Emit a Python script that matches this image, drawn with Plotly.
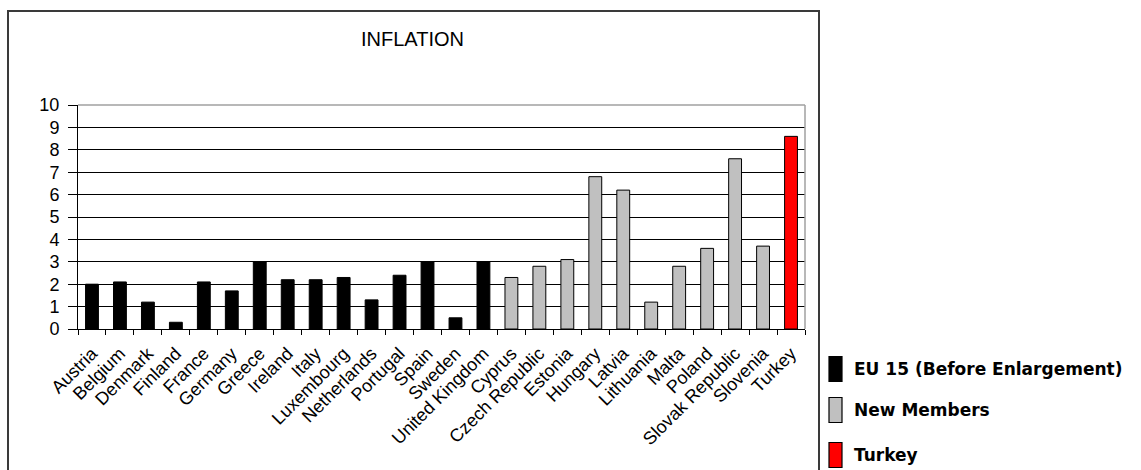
import plotly.graph_objects as go

# Annual inflation (%) by country group
eu15_countries = ["Austria", "Belgium", "Denmark", "Finland", "France", "Germany",
                  "Greece", "Ireland", "Italy", "Luxembourg", "Netherlands",
                  "Portugal", "Spain", "Sweden", "United Kingdom"]
eu15_values = [2.0, 2.1, 1.2, 0.3, 2.1, 1.7, 3.0, 2.2, 2.2, 2.3, 1.3, 2.4, 3.0, 0.5, 3.0]

new_countries = ["Cyprus", "Czech Republic", "Estonia", "Hungary", "Latvia",
                 "Lithuania", "Malta", "Poland", "Slovak Republic", "Slovenia"]
new_values = [2.3, 2.8, 3.1, 6.8, 6.2, 1.2, 2.8, 3.6, 7.6, 3.7]

turkey_countries = ["Turkey"]
turkey_values = [8.6]

series_names = ["EU 15 (Before Enlargement)", "New Members", "Turkey"]
series_colors = ["#000000", "#C0C0C0", "#FF0000"]

y_ticks = list(range(0, 11))

W, H = 1141, 470
L, R, T, B = 78, 805, 105, 329  # plot area in pixels


def px(x):
    return (x - L) / (R - L)


def py(y):
    return (B - y) / (B - T)


fig = go.Figure()
groups = [(eu15_countries, eu15_values), (new_countries, new_values),
          (turkey_countries, turkey_values)]
for (cats, vals), name, color in zip(groups, series_names, series_colors):
    fig.add_trace(go.Bar(
        x=cats, y=vals, name=name, width=0.46,
        marker=dict(color=color, line=dict(color="#000000", width=1)),
        showlegend=False,
    ))

all_cats = eu15_countries + new_countries + turkey_countries

shapes = [
    # outer chart frame
    dict(type="rect", xref="paper", yref="paper",
         x0=px(8), x1=px(819), y0=py(485), y1=py(11),
         line=dict(color="#3a3a3a", width=2), layer="above"),
    # plot-area border (top and right)
    dict(type="line", xref="paper", yref="paper", x0=0, x1=1, y0=1, y1=1,
         line=dict(color="#A0A0A0", width=1.5), layer="above"),
    dict(type="line", xref="paper", yref="paper", x0=1, x1=1, y0=0, y1=1,
         line=dict(color="#A0A0A0", width=1.5), layer="above"),
]

annotations = [
    dict(text="INFLATION", xref="paper", yref="paper", x=px(412), y=py(39),
         showarrow=False, xanchor="center", yanchor="middle",
         font=dict(family="Liberation Sans, Arial", size=20, color="#000000")),
]

# legend to the right of the frame
legend_y = [369, 410, 455]
for name, color, cy in zip(series_names, series_colors, legend_y):
    shapes.append(dict(type="rect", xref="paper", yref="paper",
                       x0=px(829), x1=px(842), y0=py(cy + 12.5), y1=py(cy - 12.5),
                       fillcolor=color, line=dict(color="#000000", width=1.2)))
    annotations.append(dict(text="<b>" + name + "</b>", xref="paper", yref="paper",
                            x=px(852), y=py(cy), showarrow=False,
                            xanchor="left", yanchor="middle",
                            font=dict(family="DejaVu Sans", size=17, color="#000000")))

fig.update_layout(
    width=W, height=H,
    margin=dict(l=L, r=W - R, t=T, b=H - B, pad=0),
    paper_bgcolor="white", plot_bgcolor="white",
    barmode="overlay",
    shapes=shapes, annotations=annotations,
    xaxis=dict(
        categoryorder="array", categoryarray=all_cats,
        range=[-0.5, len(all_cats) - 0.5],
        tickangle=-45, tickson="boundaries", ticks="outside", ticklen=5,
        tickcolor="#000000", showline=True, linecolor="#000000", linewidth=1,
        showgrid=False, automargin=False, ticklabelstandoff=6,
        tickfont=dict(family="Liberation Sans, Arial", size=18, color="#000000"),
    ),
    yaxis=dict(
        range=[0, 10], tickvals=y_ticks, ticktext=[str(v) for v in y_ticks],
        ticks="outside", ticklen=9, tickcolor="#000000",
        showline=True, linecolor="#000000", linewidth=1,
        showgrid=True, gridcolor="#000000", gridwidth=1.3, zeroline=False,
        automargin=False, ticklabelstandoff=5,
        tickfont=dict(family="Liberation Sans, Arial", size=18, color="#000000"),
    ),
)

fig.write_html("out.html")
